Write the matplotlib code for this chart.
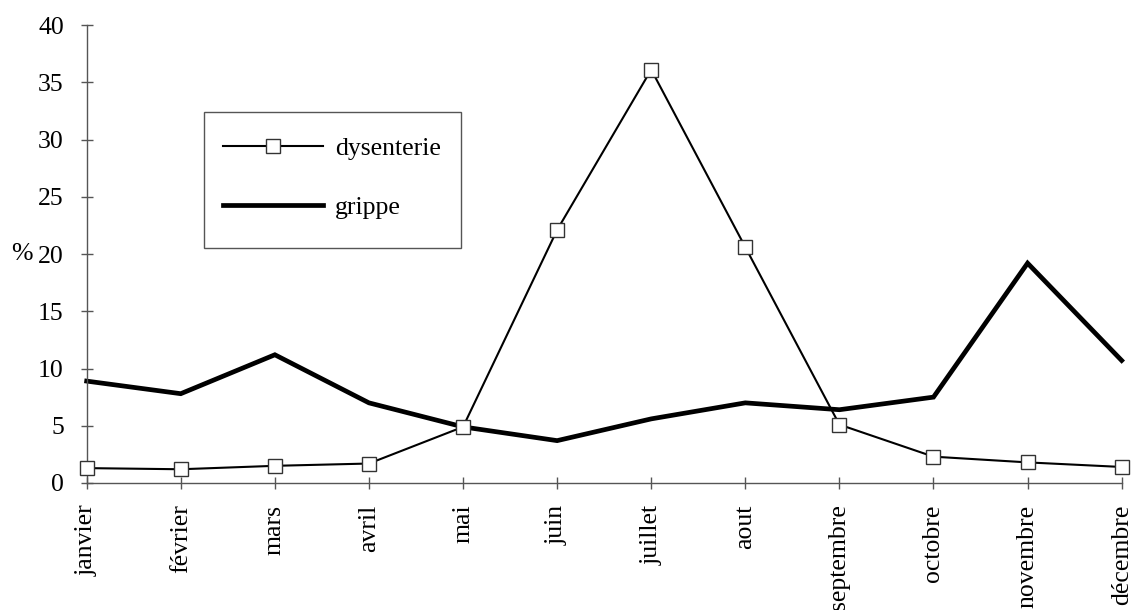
import matplotlib.pyplot as plt
from matplotlib.patches import Rectangle

mois = ['janvier', 'février', 'mars', 'avril', 'mai', 'juin', 'juillet',
        'aout', 'septembre', 'octobre', 'novembre', 'décembre']
dysenterie = [1.3, 1.2, 1.5, 1.7, 4.9, 22.1, 36.1, 20.6, 5.1, 2.3, 1.8, 1.4]
grippe = [8.9, 7.8, 11.2, 7.0, 4.9, 3.7, 5.6, 7.0, 6.4, 7.5, 19.2, 10.7]
yticks = [0, 5, 10, 15, 20, 25, 30, 35, 40]

plt.rcParams['font.family'] = ['Liberation Serif', 'DejaVu Serif']
plt.rcParams['font.size'] = 18.5

W, H = 1133, 610
fig = plt.figure(figsize=(W / 100, H / 100), dpi=100)
ax = fig.add_axes([0.0765, 0.2082, 0.9135, 0.7508])

x = range(len(mois))
ax.plot(x, dysenterie, color='black', linewidth=1.5, marker='s',
        markersize=9.5, markerfacecolor='white', markeredgecolor='#333333',
        markeredgewidth=1.0, label='dysenterie', zorder=3, clip_on=False)
ax.plot(x, grippe, color='black', linewidth=3.4, label='grippe',
        solid_joinstyle='miter', zorder=2, clip_on=False)

ax.set_xlim(0, len(mois) - 1)
ax.set_ylim(0, 40)
ax.set_yticks(yticks)
ax.set_xticks(list(x))
ax.set_xticklabels(mois, rotation=90, va='top', ha='center')

for side in ['top', 'right']:
    ax.spines[side].set_visible(False)
for side in ['left', 'bottom']:
    ax.spines[side].set_color('#555555')
    ax.spines[side].set_linewidth(1.0)
ax.tick_params(axis='both', direction='inout', length=9, width=1.0,
               color='#555555')
ax.tick_params(axis='x', pad=11)
ax.tick_params(axis='y', pad=12)

ax.set_ylabel('%', rotation=0, va='center', ha='right')
ax.yaxis.set_label_coords(-0.052, 0.5)

# legend box drawn separately so its padding can differ per direction
box = Rectangle((204 / W, 1 - 248 / H), 257 / W, 136 / H,
                transform=fig.transFigure, facecolor='white',
                edgecolor='#555555', linewidth=1.0, zorder=4, clip_on=False)
ax.add_patch(box)

leg = ax.legend(loc='upper left', frameon=False, handlelength=3.9,
                handletextpad=0.45, labelspacing=1.40, borderpad=0.75,
                borderaxespad=0)
leg.set_bbox_to_anchor((204 / W, 1 - 118 / H), transform=fig.transFigure)
leg.set_zorder(5)

fig.savefig('out.png', dpi=100)
